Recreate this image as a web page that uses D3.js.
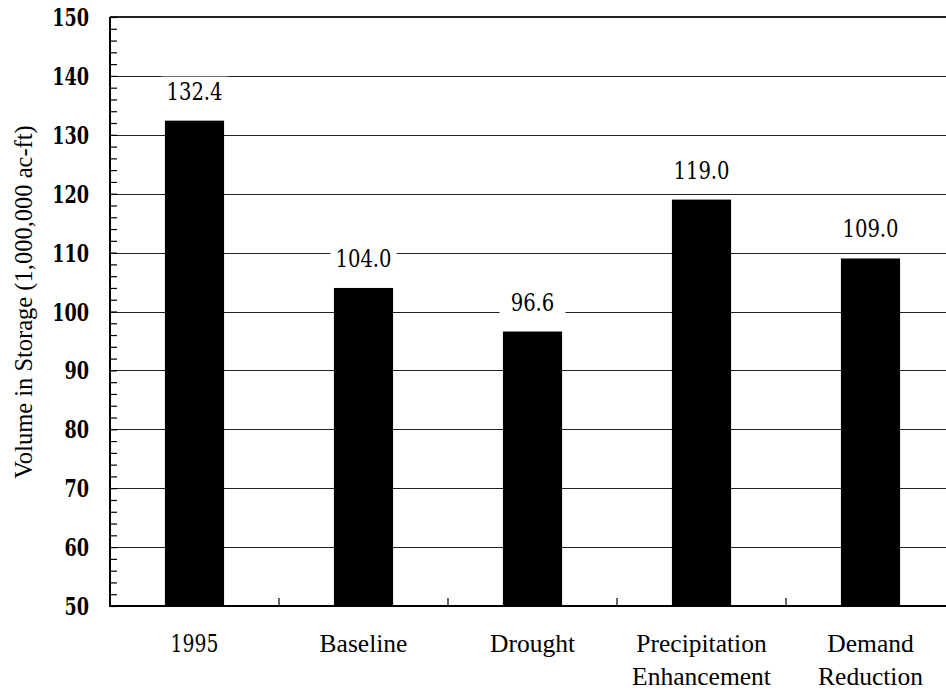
<!DOCTYPE html>
<html>
<head>
<meta charset="utf-8">
<script src="https://cdn.jsdelivr.net/npm/d3@7"></script>
<style>
  html, body { margin: 0; padding: 0; background: #fff; }
  svg { display: block; }
  text { font-family: "Liberation Serif", "Times New Roman", serif; fill: #000; }
  text.num { font-family: "DejaVu Serif Condensed", "DejaVu Serif", serif; }
</style>
</head>
<body>
<svg id="chart" width="946" height="690"></svg>
<script>
// ── Data ──────────────────────────────────────────────────────────────────
const categories = ['1995', 'Baseline', 'Drought', 'Precipitation\nEnhancement', 'Demand\nReduction'];
const storage = [132.4, 104.0, 96.6, 119.0, 109.0];
const yTicks = [50, 60, 70, 80, 90, 100, 110, 120, 130, 140, 150];

// ── Layout ────────────────────────────────────────────────────────────────
const plotLeft = 110, plotRight = 955, plotTop = 17, plotBottom = 606;
const svg = d3.select('#chart');

const x = d3.scaleBand()
  .domain(categories)
  .range([plotLeft, plotRight])
  .paddingInner(0.65)
  .paddingOuter(0.325);

const y = d3.scaleLinear().domain([50, 150]).range([plotBottom, plotTop]);

// gridlines
svg.append('g')
  .selectAll('line')
  .data(yTicks.filter(d => d > 50 && d < 150))
  .join('line')
    .attr('x1', plotLeft).attr('x2', plotRight)
    .attr('y1', d => Math.round(y(d)) + 0.5).attr('y2', d => Math.round(y(d)) + 0.5)
    .attr('stroke', '#222').attr('stroke-width', 1.2);

// top border line
svg.append('line')
  .attr('x1', plotLeft).attr('x2', plotRight)
  .attr('y1', y(150)).attr('y2', y(150))
  .attr('stroke', '#222').attr('stroke-width', 2);

// bars
svg.append('g')
  .selectAll('rect')
  .data(storage)
  .join('rect')
    .attr('x', (d, i) => x(categories[i]))
    .attr('width', x.bandwidth())
    .attr('y', d => y(d))
    .attr('height', d => y(50) - y(d))
    .attr('fill', '#000');

// value labels with white box behind
const labels = svg.append('g')
  .selectAll('g')
  .data(storage)
  .join('g')
    .attr('transform', (d, i) => `translate(${x(categories[i]) + x.bandwidth() / 2},${y(d) - 21})`);

labels.append('rect')
  .attr('x', -33).attr('width', 66)
  .attr('y', -23).attr('height', 29)
  .attr('fill', '#fff');

labels.append('text')
  .attr('class', 'num')
  .attr('text-anchor', 'middle')
  .attr('font-size', 24.5)
  .attr('transform', 'scale(0.89,1)')
  .text(d => d.toFixed(1));

// y axis: inward minor ticks every 2
const yAxis = d3.axisRight(y)
  .tickValues(d3.range(50, 151, 2))
  .tickSize(7)
  .tickFormat('');
svg.append('g')
  .attr('transform', `translate(${plotLeft},0)`)
  .call(yAxis)
  .call(g => g.select('.domain').remove())
  .call(g => g.selectAll('line').attr('stroke', '#000').attr('stroke-width', 1.2));

// y tick labels
svg.append('g')
  .selectAll('text')
  .data(yTicks)
  .join('text')
    .attr('class', 'num')
    .attr('transform', d => `translate(${plotLeft - 21},${y(d) + 9}) scale(0.8,1)`)
    .attr('text-anchor', 'end')
    .attr('font-size', 24.5)
    .attr('font-weight', 'bold')
    .text(d => d);

// x ticks at category boundaries, pointing up
const bounds = d3.range(1, categories.length).map(i => plotLeft + i * x.step());
svg.append('g')
  .selectAll('line')
  .data(bounds)
  .join('line')
    .attr('x1', d => d).attr('x2', d => d)
    .attr('y1', plotBottom).attr('y2', plotBottom - 8)
    .attr('stroke', '#000').attr('stroke-width', 1.2);

// axis lines
svg.append('line')
  .attr('x1', plotLeft).attr('x2', plotLeft)
  .attr('y1', plotTop).attr('y2', plotBottom + 1)
  .attr('stroke', '#000').attr('stroke-width', 2);
svg.append('line')
  .attr('x1', plotLeft - 1).attr('x2', plotRight)
  .attr('y1', plotBottom).attr('y2', plotBottom)
  .attr('stroke', '#000').attr('stroke-width', 2);

// category labels
const cat = svg.append('g')
  .selectAll('text')
  .data(categories)
  .join('text')
    .attr('text-anchor', 'middle')
    .attr('font-size', 25.5)
    .attr('transform', d => `translate(${x(d) + x.bandwidth() / 2},652)`);
cat.filter(d => /^\d+$/.test(d))
  .attr('class', 'num')
  .attr('font-size', 23.5)
  .attr('transform', d => `translate(${x(d) + x.bandwidth() / 2},652) scale(0.89,1)`);
cat.selectAll('tspan')
  .data(d => d.split('\n'))
  .join('tspan')
    .attr('x', 0)
    .attr('dy', (d, i) => i === 0 ? 0 : 33)
    .text(d => d);

// y axis title
svg.append('text')
  .attr('transform', 'translate(32,302) rotate(-90)')
  .attr('text-anchor', 'middle')
  .attr('font-size', 24.5)
  .text('Volume in Storage (1,000,000 ac-ft)');
</script>
</body>
</html>
